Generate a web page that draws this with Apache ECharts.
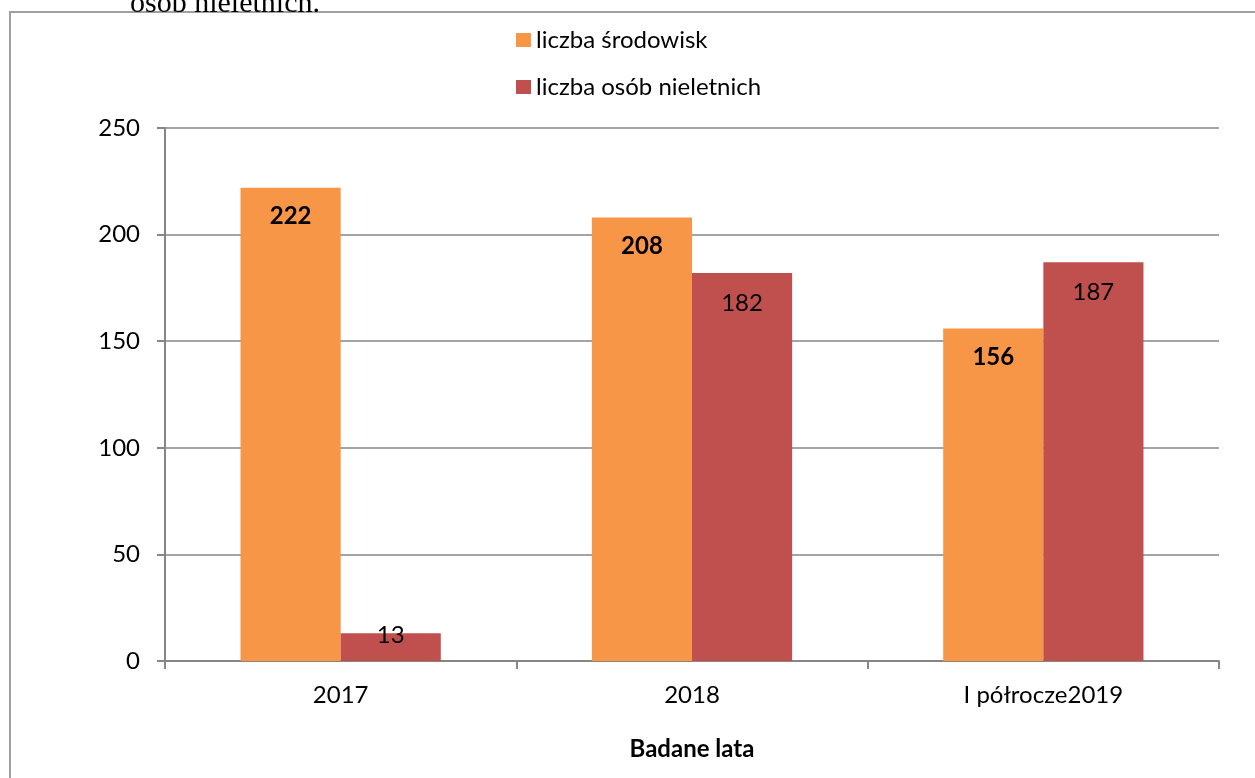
<!DOCTYPE html>
<html>
<head>
<meta charset="utf-8">
<script src="https://cdn.jsdelivr.net/npm/echarts@6/dist/echarts.min.js"></script>
<style>
  html, body { margin: 0; padding: 0; background: #fff; }
  #chart { width: 1255px; height: 778px; }
</style>
</head>
<body>
<div id="chart"></div>
<script>
const categories = ['2017', '2018', 'I półrocze2019'];
const srodowiska = [222, 208, 156];
const nieletni = [13, 182, 187];
const yTicks = { min: 0, max: 250, interval: 50 };

const chart = echarts.init(document.getElementById('chart'), null, { renderer: 'canvas' });

const font = 'Lato, "Open Sans", sans-serif';

const option = {
  animation: false,
  textStyle: { fontFamily: font },
  graphic: [
    {
      type: 'rect',
      shape: { x: 10, y: 12, width: 1400, height: 900 },
      style: { fill: 'none', stroke: '#a0a0a0', lineWidth: 2 },
      silent: true
    },
    {
      type: 'text',
      left: 130,
      top: -11,
      style: { text: 'osób nieletnich.', font: '30px "Liberation Serif", "Times New Roman", serif', fill: '#000' }
    }
  ],
  legend: {
    orient: 'vertical',
    left: 511,
    top: 23,
    itemWidth: 15,
    itemHeight: 14,
    itemGap: 23,
    icon: 'rect',
    textStyle: { fontFamily: font, fontSize: 24, color: '#000' }
  },
  grid: { left: 165, right: 36, top: 128, bottom: 117, containLabel: false },
  xAxis: {
    type: 'category',
    data: categories,
    name: 'Badane lata',
    nameLocation: 'middle',
    nameGap: 76,
    nameTextStyle: { fontFamily: font, fontSize: 24, fontWeight: 'bold', color: '#000' },
    axisLine: { lineStyle: { color: '#868686', width: 2 } },
    axisTick: { show: true, length: 8, lineStyle: { color: '#868686', width: 2 } },
    axisLabel: { fontFamily: font, fontSize: 24, color: '#000', margin: 22 }
  },
  yAxis: {
    type: 'value',
    min: yTicks.min,
    max: yTicks.max,
    interval: yTicks.interval,
    axisLine: { show: true, lineStyle: { color: '#868686', width: 2 } },
    axisTick: { show: true, length: 8, lineStyle: { color: '#868686', width: 2 } },
    splitLine: { lineStyle: { color: '#868686', width: 1.5 } },
    axisLabel: { fontFamily: font, fontSize: 24, color: '#000', margin: 25 }
  },
  series: [
    {
      name: 'liczba środowisk',
      type: 'bar',
      data: srodowiska,
      barGap: '0%',
      barCategoryGap: '43%',
      itemStyle: { color: '#F79646' },
      label: {
        show: true,
        position: 'insideTop',
        distance: 17,
        fontFamily: font,
        fontSize: 24,
        fontWeight: 'bold',
        color: '#000'
      }
    },
    {
      name: 'liczba osób nieletnich',
      type: 'bar',
      data: nieletni.map(function (v) {
        return v < 30 ? { value: v, label: { position: 'insideTop', distance: -10 } } : v;
      }),
      itemStyle: { color: '#C0504D' },
      label: {
        show: true,
        position: 'insideTop',
        distance: 18,
        fontFamily: font,
        fontSize: 24,
        color: '#000'
      }
    }
  ]
};

chart.setOption(option);
</script>
</body>
</html>
